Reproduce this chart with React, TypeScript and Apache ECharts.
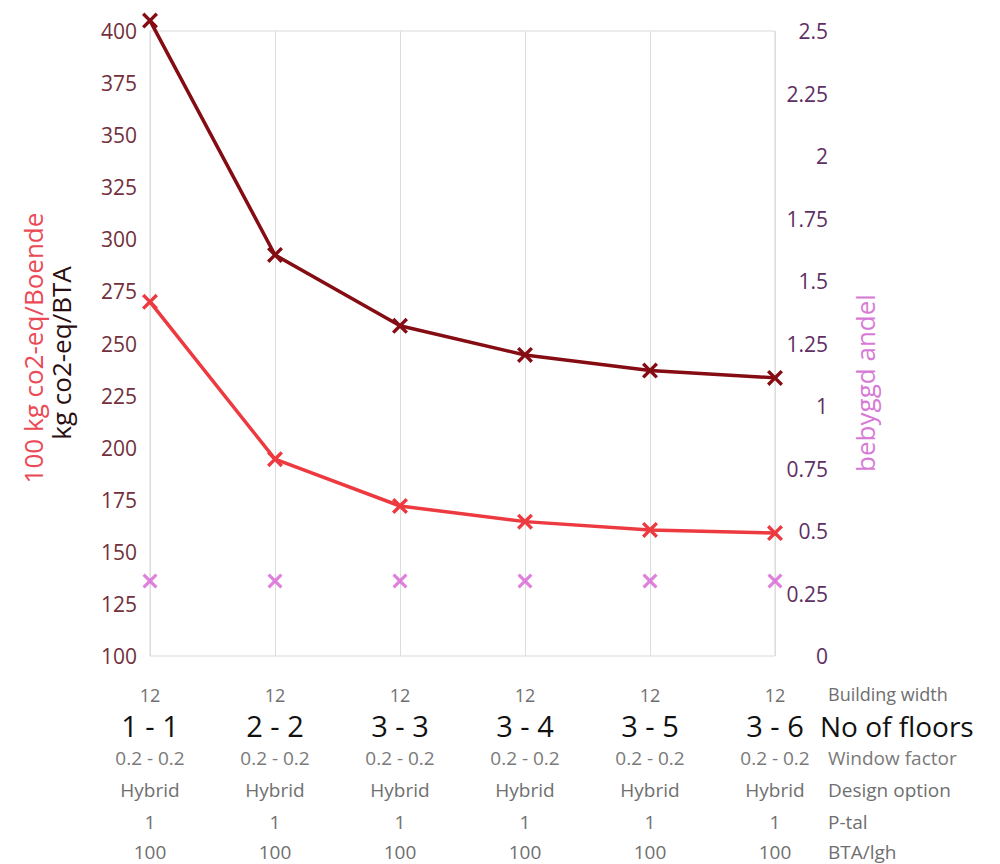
import React, { useEffect, useRef } from "react";
import * as echarts from "echarts";

const floors = ["1 - 1", "2 - 2", "3 - 3", "3 - 4", "3 - 5", "3 - 6"];
const buildingWidth = ["12", "12", "12", "12", "12", "12"];
const windowFactor = ["0.2 - 0.2", "0.2 - 0.2", "0.2 - 0.2", "0.2 - 0.2", "0.2 - 0.2", "0.2 - 0.2"];
const designOption = ["Hybrid", "Hybrid", "Hybrid", "Hybrid", "Hybrid", "Hybrid"];
const pTal = ["1", "1", "1", "1", "1", "1"];
const btaLgh = ["100", "100", "100", "100", "100", "100"];

const kgPerBTA = [405, 292.5, 258.5, 244.5, 237, 233.5];
const kgPerBoende = [270, 194.5, 172, 164.5, 160.5, 159];
const bebyggdAndel = [0.3, 0.3, 0.3, 0.3, 0.3, 0.3];

const rowLabels = ["Building width", "No of floors", "Window factor", "Design option", "P-tal", "BTA/lgh"];

const FONT = "'Open Sans', 'Noto Sans', sans-serif";
const X_PATH = "path://M0,3 L3,0 L10,7 L17,0 L20,3 L13,10 L20,17 L17,20 L10,13 L3,20 L0,17 L7,10 Z";

export default function App() {
  const ref = useRef<HTMLDivElement>(null);
  useEffect(() => {
    if (!ref.current) return;
    const chart = echarts.init(ref.current, undefined, { renderer: "svg" });
    const rowY = [694, 726, 758, 790, 822, 852];
    const rowX = [828, 820, 828, 828, 828, 828];
    const rowStyles = [
      { fontSize: 18, fill: "#6f6f6f" },
      { fontSize: 28, fill: "#111111" },
      { fontSize: 19, fill: "#7a7a7a" },
      { fontSize: 19, fill: "#6f6f6f" },
      { fontSize: 19, fill: "#6f6f6f" },
      { fontSize: 19, fill: "#6f6f6f" },
    ];
    chart.setOption({
      animation: false,
      textStyle: { fontFamily: FONT },
      grid: {
        left: 150,
        right: 225,
        top: 31,
        bottom: 208,
        show: true,
        borderColor: "#d9d9d9",
        borderWidth: 1,
        containLabel: false,
      },
      xAxis: {
        type: "category",
        data: floors,
        boundaryGap: false,
        axisLine: { show: false },
        axisTick: { show: false },
        splitLine: { show: true, lineStyle: { color: "#dcdcdc", width: 1 } },
        axisLabel: {
          margin: 27,
          interval: 0,
          fontFamily: FONT,
          formatter: (value: string, idx: number) =>
            `{a|${buildingWidth[idx]}}\n{b|${value}}\n{c|${windowFactor[idx]}}\n{d|${designOption[idx]}}\n{e|${pTal[idx]}}\n{f|${btaLgh[idx]}}`,
          rich: {
            a: { fontSize: 18, color: "#6f6f6f", lineHeight: 24, fontFamily: FONT },
            b: { fontSize: 29, color: "#111111", lineHeight: 36, fontFamily: FONT },
            c: { fontSize: 19, color: "#7a7a7a", lineHeight: 30, fontFamily: FONT },
            d: { fontSize: 19, color: "#6f6f6f", lineHeight: 34, fontFamily: FONT },
            e: { fontSize: 19, color: "#6f6f6f", lineHeight: 30, fontFamily: FONT },
            f: { fontSize: 19, color: "#6f6f6f", lineHeight: 30, fontFamily: FONT },
          },
        },
      },
      yAxis: [
        {
          type: "value",
          min: 100,
          max: 400,
          interval: 25,
          axisLine: { show: false },
          axisTick: { show: false },
          splitLine: { show: false },
          axisLabel: { margin: 13, fontSize: 21, color: "#72303c", fontFamily: FONT },
        },
        {
          type: "value",
          position: "right",
          min: 0,
          max: 2.5,
          interval: 0.25,
          axisLine: { show: false },
          axisTick: { show: false },
          splitLine: { show: false },
          axisLabel: { margin: 53, align: "right", fontSize: 21, color: "#5e2f63", fontFamily: FONT },
        },
      ],
      series: [
        {
          name: "kg co2-eq/BTA",
          type: "line",
          yAxisIndex: 0,
          data: kgPerBTA,
          clip: false,
          symbol: X_PATH,
          symbolSize: 16,
          lineStyle: { color: "#850c13", width: 3.5 },
          itemStyle: { color: "#850c13" },
          z: 4,
        },
        {
          name: "100 kg co2-eq/Boende",
          type: "line",
          yAxisIndex: 0,
          data: kgPerBoende,
          clip: false,
          symbol: X_PATH,
          symbolSize: 16,
          lineStyle: { color: "#ec3a40", width: 3.5 },
          itemStyle: { color: "#ec3a40" },
          z: 3,
        },
        {
          name: "bebyggd andel",
          type: "scatter",
          yAxisIndex: 1,
          data: bebyggdAndel,
          clip: false,
          symbol: X_PATH,
          symbolSize: 15,
          itemStyle: { color: "#d760d3" },
          z: 3,
        },
      ],
      graphic: [
        {
          type: "text",
          x: 33,
          y: 348,
          rotation: Math.PI / 2,
          style: {
            text: "100 kg co2-eq/Boende",
            align: "center",
            verticalAlign: "middle",
            fontSize: 26,
            fontFamily: FONT,
            fill: "#ea4a55",
          },
        },
        {
          type: "text",
          x: 61,
          y: 353,
          rotation: Math.PI / 2,
          style: {
            text: "kg co2-eq/BTA",
            align: "center",
            verticalAlign: "middle",
            fontSize: 26,
            fontFamily: FONT,
            fill: "#2a0d10",
          },
        },
        {
          type: "text",
          x: 865,
          y: 383,
          rotation: Math.PI / 2,
          style: {
            text: "bebyggd andel",
            align: "center",
            verticalAlign: "middle",
            fontSize: 26,
            fontFamily: FONT,
            fill: "#d77ad6",
          },
        },
        ...rowLabels.map((t, i) => ({
          type: "text",
          x: rowX[i],
          y: rowY[i],
          style: {
            text: t,
            align: "left",
            verticalAlign: "middle",
            fontSize: rowStyles[i].fontSize,
            fontFamily: FONT,
            fill: rowStyles[i].fill,
          },
        })),
      ],
    });
    return () => chart.dispose();
  }, []);
  return (
    <div
      ref={ref}
      style={{ position: "fixed", left: 0, top: 0, width: 1000, height: 864, background: "#ffffff" }}
    />
  );
}
